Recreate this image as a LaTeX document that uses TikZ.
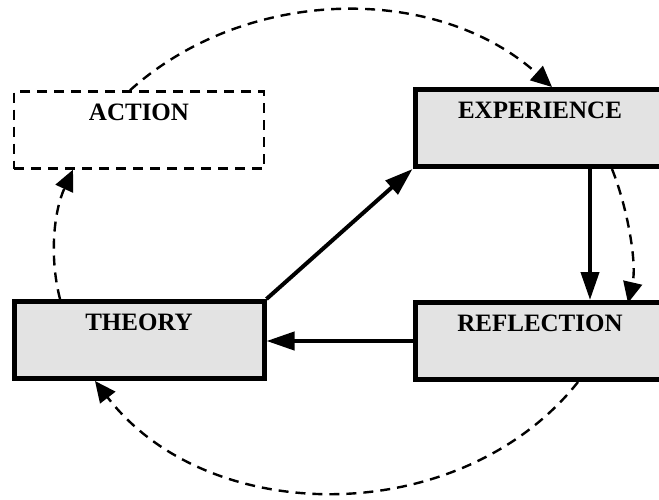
\documentclass[tikz,border=0pt]{standalone}
\usepackage{fontspec}
\setmainfont{Liberation Serif}
\usetikzlibrary{arrows.meta}

\tikzset{
  stagebox/.style={rectangle, minimum width=250pt, inner xsep=0pt, inner ysep=12pt,
    text height=17pt, text depth=36pt,
    font=\bfseries\fontsize{25}{30}\selectfont},
  solidbox/.style={stagebox, draw=black, line width=5pt, fill=black!11},
  dashbox/.style={stagebox, draw=black, line width=2.4pt, dash pattern=on 10pt off 7pt},
  flow/.style={line width=4pt, -{Triangle[length=28pt,width=18pt]}},
  cycle/.style={line width=2.4pt, dash pattern=on 10pt off 7pt,
    -{Triangle[length=21pt,width=19pt]}}
}

\begin{document}
\begin{tikzpicture}[x=1pt, y=-1pt]
  \useasboundingbox (0,0) rectangle (659,499);
  \clip (0,0) rectangle (659,499);

  % the four stages
  \node[dashbox]  (act)    at (139,130) {ACTION};
  \node[solidbox] (exp)    at (540,128) {EXPERIENCE};
  \node[solidbox] (theory) at (139,340) {THEORY};
  \node[solidbox] (refl)   at (540,341) {REFLECTION};

  % main learning path
  \draw[flow] (theory.north east) -- (exp.south west);
  \draw[flow] ([xshift=50pt]exp.south) -- ([xshift=50pt]refl.north);
  \draw[flow] (refl.west) -- (refl.west -| theory.east);

  % outer cycle
  \draw[cycle] ([xshift=-9pt]act.north)
     .. controls (246,-14) and (436,-17) .. ([xshift=12pt]exp.north);
  \draw[cycle] ([xshift=72pt]exp.south)
     .. controls (628,209) and (637,264) .. ([xshift=88pt,yshift=-3pt]refl.north);
  \draw[cycle] ([xshift=38pt]refl.south)
     .. controls (461,529) and (209,529) .. ([xshift=-44pt]theory.south);
  \draw[cycle] ([xshift=-79pt]theory.north)
     .. controls (49,256) and (54,211) .. ([xshift=-66pt]act.south);
\end{tikzpicture}
\end{document}
